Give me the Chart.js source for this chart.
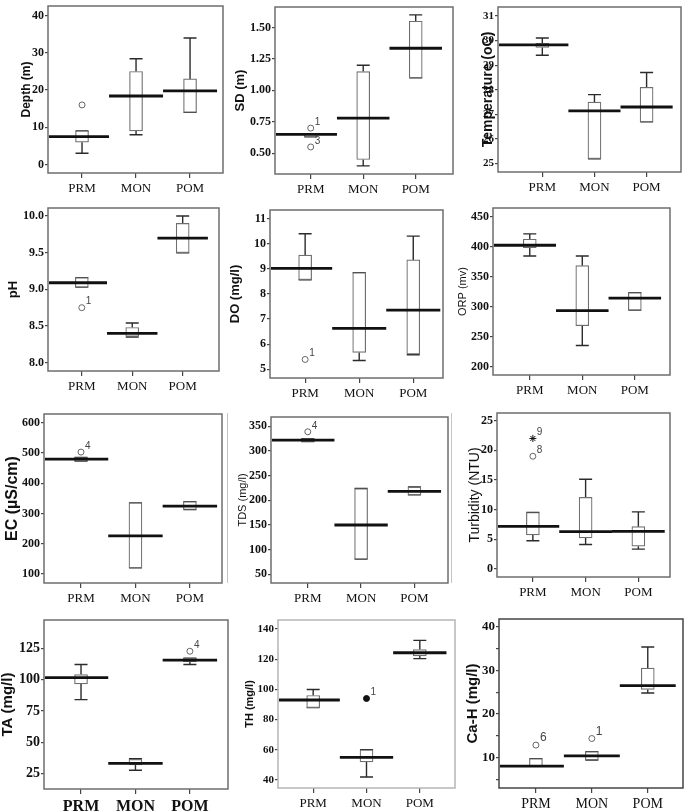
<!DOCTYPE html>
<html>
<head>
<meta charset="utf-8">
<script src="https://cdn.jsdelivr.net/npm/chart.js@4.4.1/dist/chart.umd.min.js"></script>
<style>
html, body { margin: 0; padding: 0; background: #fff; overflow: hidden; }
#page { position: relative; width: 685px; height: 812px; overflow: hidden; }
.edge { position: absolute; width: 1px; background: #c4c4c4; }
</style>
</head>
<body>
<div id="page">
  <div class="edge" style="left:227px;top:413px;height:170px"></div>
  <div class="edge" style="left:451px;top:413px;height:170px"></div>
</div>
<script>
const categories = ['PRM', 'MON', 'POM'];

// box stats per season: [min, q1, median, q3, max]
// outliers: [season index, value, label, marker]
const depthBoxes = [[3, 6, 7.5, 9, 9], [8, 9, 18.4, 25, 28.4], [14, 14, 19.8, 23, 34]];
const depthOutliers = [[0, 16, '']];
const depthTicks = [0, 10, 20, 30, 40];

const sdBoxes = [[0.63, 0.63, 0.65, 0.65, 0.65], [0.40, 0.45, 0.78, 1.15, 1.20], [1.10, 1.10, 1.335, 1.55, 1.60]];
const sdOutliers = [[0, 0.70, '1'], [0, 0.55, '3']];
const sdTicks = [0.5, 0.75, 1.0, 1.25, 1.5];

const tempBoxes = [[29.4, 29.72, 29.82, 29.88, 30.1], [25.2, 25.2, 27.14, 27.5, 27.8], [26.7, 26.7, 27.3, 28.1, 28.7]];
const tempOutliers = [];
const tempTicks = [25, 26, 27, 28, 29, 30, 31];

const phBoxes = [[9.03, 9.03, 9.09, 9.16, 9.16], [8.35, 8.36, 8.40, 8.48, 8.54], [9.5, 9.5, 9.70, 9.9, 10.0]];
const phOutliers = [[0, 8.75, '1']];
const phTicks = [8.0, 8.5, 9.0, 9.5, 10.0];

const doBoxes = [[8.57, 8.57, 9.02, 9.55, 10.4], [5.35, 5.67, 6.63, 8.85, 8.85], [5.58, 5.6, 7.36, 9.36, 10.31]];
const doOutliers = [[0, 5.39, '1']];
const doTicks = [5, 6, 7, 8, 9, 10, 11];

const orpBoxes = [[384, 398, 402, 412, 421], [235, 268, 293, 368, 384], [294, 294, 314, 323, 323]];
const orpOutliers = [];
const orpTicks = [200, 250, 300, 350, 400, 450];

const ecBoxes = [[473, 473, 480, 485, 485], [120, 120, 226, 335, 335], [313, 313, 324, 339, 339]];
const ecOutliers = [[0, 503, '4']];
const ecTicks = [100, 200, 300, 400, 500, 600];

const tdsBoxes = [[319, 319, 322, 325, 325], [81, 81, 150, 224, 224], [211, 211, 218, 227, 227]];
const tdsOutliers = [[0, 339, '4']];
const tdsTicks = [50, 100, 150, 200, 250, 300, 350];

const turbBoxes = [[4.73, 5.7, 7.15, 9.5, 9.5], [4.1, 5.2, 6.25, 12.05, 15.1], [3.3, 3.8, 6.3, 7.1, 9.6]];
const turbOutliers = [[0, 22, '9', 'star'], [0, 19, '8']];
const turbTicks = [0, 5, 10, 15, 20, 25];

const taBoxes = [[84, 96.5, 101.5, 104, 112], [27.7, 32, 33.2, 36.4, 37], [112, 114.3, 115.5, 117, 117]];
const taOutliers = [[2, 122.6, '4']];
const taTicks = [25, 50, 75, 100, 125];

const thBoxes = [[88, 88, 93, 96, 100], [42, 52, 55, 60, 60], [120.4, 122.2, 124.3, 126.4, 132.5]];
const thOutliers = [[1, 94, '1', 'dot']];
const thTicks = [40, 60, 80, 100, 120, 140];

const cahBoxes = [[8.1, 8.1, 8.1, 9.8, 9.8], [9.5, 9.5, 10.46, 11.4, 11.4], [24.8, 25.6, 26.5, 30.5, 35.3]];
const cahOutliers = [[0, 12.9, '6'], [1, 14.4, '1']];
const cahTicks = [5, 10, 15, 20, 25, 30, 35, 40];

const SERIF = "'Liberation Serif', 'Times New Roman', serif";
const SANS = "'Liberation Sans', Arial, sans-serif";
const AXIS_W = 48, AXIS_H = 30, PAD_T = 12, PAD_R = 6;

// frame = [left, top, right, bottom] of the plot box on the page
const panels = [
  { title: 'Depth (m)', boxes: depthBoxes, outliers: depthOutliers, ticks: depthTicks, y: [-2.3, 42.6], x: [-0.63, 2.61], frame: [48, 6, 223, 173], titleX: -21, titleSize: 12, dec: 0 },
  { title: 'SD (m)', boxes: sdBoxes, outliers: sdOutliers, ticks: sdTicks, y: [0.335, 1.663], x: [-0.68, 2.71], frame: [275, 7, 453, 174], titleX: -35, titleSize: 13, dec: 2 },
  { title: 'Temperature (oC)', boxes: tempBoxes, outliers: tempOutliers, ticks: tempTicks, y: [24.66, 31.36], x: [-0.85, 2.66], frame: [498, 7, 681, 172], titleX: -10, titleSize: 14, dec: 0, yTick: 11 },
  { title: 'pH', boxes: phBoxes, outliers: phOutliers, ticks: phTicks, y: [7.886, 10.11], x: [-0.67, 2.72], frame: [48, 208, 219, 371], titleX: -35, titleSize: 13, dec: 1 },
  { title: 'DO (mg/l)', boxes: doBoxes, outliers: doOutliers, ticks: doTicks, y: [4.65, 11.35], x: [-0.65, 2.55], frame: [270, 210, 443, 378], titleX: -35, titleSize: 13, dec: 0 },
  { title: 'ORP (mv)', boxes: orpBoxes, outliers: orpOutliers, ticks: orpTicks, y: [186, 464], x: [-0.70, 2.67], frame: [493, 208, 670, 375], titleX: -30, titleSize: 11, titleWeight: 'normal', dec: 0 },
  { title: 'EC (µS/cm)', boxes: ecBoxes, outliers: ecOutliers, ticks: ecTicks, y: [70, 629], x: [-0.68, 2.59], frame: [44, 414, 222, 583], titleX: -31, titleSize: 16, dec: 0 },
  { title: 'TDS (mg/l)', boxes: tdsBoxes, outliers: tdsOutliers, ticks: tdsTicks, y: [32.4, 369], x: [-0.69, 2.63], frame: [271, 417, 448, 583], titleX: -28, titleSize: 11, titleWeight: 'normal', dec: 0 },
  { title: 'Turbidity (NTU)', boxes: turbBoxes, outliers: turbOutliers, ticks: turbTicks, y: [-1.4, 26.3], x: [-0.68, 2.60], frame: [497, 413, 670, 577], titleX: -22, titleSize: 14, titleWeight: 'normal', dec: 0 },
  { title: 'TA (mg/l)', boxes: taBoxes, outliers: taOutliers, ticks: taTicks, y: [12.8, 147.5], x: [-0.68, 2.70], frame: [44, 620, 228, 789], titleX: -36, titleSize: 15, dec: 0, yTick: 14, xTick: 16, xWeight: 'bold' },
  { title: 'TH (mg/l)', boxes: thBoxes, outliers: thOutliers, ticks: thTicks, y: [34.7, 146], x: [-0.66, 2.66], frame: [278, 620, 455, 788], titleX: -28, titleSize: 11, dec: 0, yTick: 11, xTick: 13, frameColor: '#b5b5b5' },
  { title: 'Ca-H (mg/l)', boxes: cahBoxes, outliers: cahOutliers, ticks: cahTicks, y: [3.1, 41.7], x: [-0.66, 2.63], frame: [499, 619, 683, 788], titleX: -26, titleSize: 15, dec: 0, yTick: 13, xTick: 14, labelStep: 10, labelSize: 12, frameColor: '#444' }
];

// whiskers, medians, outlier labels and the plot frame
const boxPlotPlugin = {
  id: 'boxPlot',
  beforeDatasetsDraw(chart, args, opts) {
    const { ctx, scales: { x, y } } = chart;
    ctx.save();
    ctx.strokeStyle = '#2b2b2b';
    ctx.lineWidth = 1.4;
    opts.boxes.forEach((b, i) => {
      const cx = x.getPixelForValue(i);
      ctx.beginPath();
      ctx.moveTo(cx, y.getPixelForValue(b[0]));
      ctx.lineTo(cx, y.getPixelForValue(b[1]));
      ctx.moveTo(cx, y.getPixelForValue(b[3]));
      ctx.lineTo(cx, y.getPixelForValue(b[4]));
      [b[0], b[4]].forEach(v => {
        const py = y.getPixelForValue(v);
        ctx.moveTo(cx - 6.5, py);
        ctx.lineTo(cx + 6.5, py);
      });
      ctx.stroke();
    });
    ctx.restore();
  },
  afterDatasetsDraw(chart, args, opts) {
    const { ctx, chartArea: a, scales: { x, y } } = chart;
    ctx.save();
    ctx.strokeStyle = '#111';
    ctx.lineWidth = 2.8;
    opts.boxes.forEach((b, i) => {
      const py = y.getPixelForValue(b[2]);
      const x0 = i === 0 ? a.left + 1 : x.getPixelForValue(i - 0.5);
      ctx.beginPath();
      ctx.moveTo(x0, py);
      ctx.lineTo(x.getPixelForValue(i + 0.5), py);
      ctx.stroke();
    });
    // outlier case numbers
    const pts = chart.getDatasetMeta(1).data;
    ctx.fillStyle = '#444';
    ctx.font = (opts.labelSize || 10) + "px " + SANS;
    ctx.textBaseline = 'bottom';
    opts.outliers.forEach((o, i) => {
      if (o[2] && pts[i]) ctx.fillText(o[2], pts[i].x + 4, pts[i].y - 1);
    });
    ctx.restore();
  },
  afterDraw(chart, args, opts) {
    const { ctx, chartArea: a } = chart;
    ctx.save();
    ctx.strokeStyle = opts.frameColor || '#6e6e6e';
    ctx.lineWidth = 1.5;
    ctx.strokeRect(a.left, a.top, a.right - a.left, a.bottom - a.top);
    ctx.restore();
  }
};

const page = document.getElementById('page');

panels.forEach(p => {
  const [l, t, r, b] = p.frame;
  const w = r - l + AXIS_W + PAD_R;
  const h = b - t + PAD_T + AXIS_H;
  const cv = document.createElement('canvas');
  cv.width = w;
  cv.height = h;
  cv.style.cssText = `position:absolute;left:${l - AXIS_W}px;top:${t - PAD_T}px;width:${w}px;height:${h}px`;
  page.appendChild(cv);

  const titleSize = p.titleSize;
  const titlePad = AXIS_W + p.titleX - titleSize * 0.6;

  new Chart(cv, {
    type: 'bar',
    data: {
      datasets: [{
        type: 'bar',
        data: p.boxes.map((bx, i) => ({ x: i, y: [bx[1], bx[3]] })),
        backgroundColor: '#ffffff',
        borderColor: '#6f6f6f',
        borderWidth: 1.2,
        borderSkipped: false,
        barThickness: 13
      }, {
        type: 'scatter',
        data: p.outliers.map(o => ({ x: o[0], y: o[1] })),
        showLine: false,
        pointStyle: ctx => (p.outliers[ctx.dataIndex] || [])[3] === 'star' ? 'star' : 'circle',
        pointRadius: ctx => (p.outliers[ctx.dataIndex] || [])[3] === 'star' ? 3.5 : 3,
        pointBorderWidth: 1,
        pointBorderColor: ctx => (p.outliers[ctx.dataIndex] || [])[3] ? '#111' : '#666',
        pointBackgroundColor: ctx => (p.outliers[ctx.dataIndex] || [])[3] === 'dot' ? '#111' : '#fff'
      }]
    },
    options: {
      responsive: false,
      devicePixelRatio: 1,
      animation: false,
      layout: { padding: { left: 0, top: PAD_T, right: PAD_R, bottom: 0 } },
      plugins: {
        legend: { display: false },
        tooltip: { enabled: false },
        boxPlot: { boxes: p.boxes, outliers: p.outliers, frameColor: p.frameColor, labelSize: p.labelSize }
      },
      scales: {
        x: {
          type: 'linear',
          offset: false,
          min: p.x[0],
          max: p.x[1],
          afterBuildTicks: s => { s.ticks = categories.map((c, i) => ({ value: i })); },
          afterFit: s => { s.height = AXIS_H; },
          ticks: {
            callback: v => categories[v],
            font: { family: SERIF, size: p.xTick || 13, weight: p.xWeight || 'normal' },
            color: '#111',
            padding: 3,
            maxRotation: 0,
            autoSkip: false
          },
          grid: { offset: false, drawOnChartArea: false, drawTicks: true, tickLength: 5, color: '#444', lineWidth: 1.2 },
          border: { display: false }
        },
        y: {
          type: 'linear',
          min: p.y[0],
          max: p.y[1],
          afterBuildTicks: s => { s.ticks = p.ticks.map(v => ({ value: v })); },
          afterFit: s => { s.width = AXIS_W; },
          ticks: {
            callback: v => (p.labelStep && v % p.labelStep) ? '' : v.toFixed(p.dec),
            font: { family: SERIF, size: p.yTick || 12, weight: 'bold' },
            color: '#111',
            padding: 1
          },
          title: {
            display: true,
            text: p.title,
            font: { family: SANS, size: titleSize, weight: p.titleWeight || 'bold', lineHeight: 1.2 },
            color: '#111',
            padding: { top: titlePad, bottom: 0 }
          },
          grid: { drawOnChartArea: false, drawTicks: true, tickLength: 3, color: '#444', lineWidth: 1.2 },
          border: { display: false }
        }
      }
    },
    plugins: [boxPlotPlugin]
  });
});
</script>
</body>
</html>
